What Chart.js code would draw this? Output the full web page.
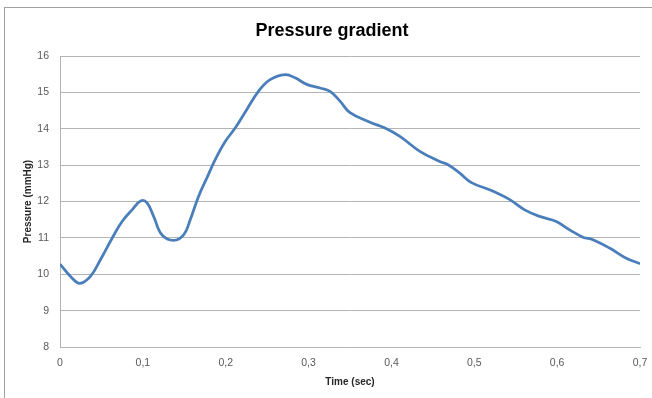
<!DOCTYPE html>
<html>
<head>
<meta charset="utf-8">
<script src="https://cdn.jsdelivr.net/npm/chart.js@4/dist/chart.umd.min.js"></script>
<style>
  html, body { margin: 0; padding: 0; background: #fff; width: 652px; height: 398px; overflow: hidden; position: relative; }
  #frame { position: absolute; left: 4px; top: 7px; width: 700px; height: 500px; border: 1px solid #a0a0a0; box-sizing: border-box; }
  #c { position: absolute; left: 0; top: 0; }
</style>
</head>
<body>
<div id="frame"></div>
<canvas id="c" width="652" height="398"></canvas>
<script>
const titleText = "Pressure gradient";
const xTitle = "Time (sec)";
const yTitle = "Pressure (mmHg)";
const timeSec = [0, 0.0127, 0.0239, 0.0367, 0.0488, 0.0629, 0.0749, 0.0870, 0.0978, 0.1051, 0.1130, 0.1231, 0.1371, 0.1492, 0.1572, 0.1672, 0.1773, 0.1873, 0.1994, 0.2114, 0.2255, 0.2395, 0.2536, 0.2717, 0.2837, 0.2978, 0.3139, 0.3259, 0.3380, 0.3500, 0.3741, 0.3922, 0.4102, 0.4343, 0.4584, 0.4684, 0.4825, 0.4966, 0.5207, 0.5428, 0.5608, 0.5789, 0.5990, 0.6151, 0.6311, 0.6431, 0.6633, 0.6834, 0.7];
const pressure = [10.28, 9.94, 9.75, 9.94, 10.40, 10.99, 11.45, 11.77, 12.02, 11.96, 11.59, 11.08, 10.93, 11.08, 11.50, 12.14, 12.65, 13.15, 13.65, 14.02, 14.53, 15.03, 15.35, 15.49, 15.40, 15.22, 15.12, 15.03, 14.76, 14.44, 14.18, 14.02, 13.79, 13.38, 13.10, 13.01, 12.78, 12.52, 12.30, 12.05, 11.77, 11.59, 11.45, 11.22, 11.02, 10.95, 10.72, 10.44, 10.29];
const xTicks = [0, 0.1, 0.2, 0.3, 0.4, 0.5, 0.6, 0.7];
const yTicks = [8, 9, 10, 11, 12, 13, 14, 15, 16];

const points = timeSec.map((t, i) => ({ x: t, y: pressure[i] }));
const FONT = "'Liberation Sans', Arial, sans-serif";

new Chart(document.getElementById('c'), {
  type: 'line',
  data: {
    datasets: [{
      data: points,
      borderColor: '#4a7ebb',
      borderWidth: 2.75,
      pointRadius: 0,
      tension: 0.4,
      fill: false
    }]
  },
  options: {
    responsive: false,
    animation: false,
    layout: { padding: { left: 24, right: 12, top: 0, bottom: 0 } },
    plugins: {
      legend: { display: false },
      tooltip: { enabled: false },
      title: {
        display: true,
        text: titleText,
        color: '#000000',
        font: { family: FONT, size: 18, weight: 'bold' },
        padding: { top: 20, bottom: 14.4 }
      }
    },
    scales: {
      x: {
        type: 'linear',
        min: xTicks[0],
        max: xTicks[xTicks.length - 1],
        afterBuildTicks: (s) => { s.ticks = xTicks.map(v => ({ value: v })); },
        afterFit: (s) => { s.height = 51; s.paddingLeft = 0; s.paddingRight = 0; },
        grid: { display: false, drawTicks: false },
        border: { display: true, color: '#b4b4b4', width: 1 },
        ticks: {
          padding: 10,
          maxRotation: 0,
          autoSkip: false,
          color: '#595959',
          font: { family: FONT, size: 10.5 },
          callback: (v) => String(Math.round(v * 10) / 10).replace('.', ',')
        },
        title: {
          display: true,
          text: xTitle,
          color: '#262626',
          font: { family: FONT, size: 10, weight: 'bold' },
          padding: { top: 0, bottom: 10 }
        }
      },
      y: {
        type: 'linear',
        min: yTicks[0],
        max: yTicks[yTicks.length - 1],
        afterBuildTicks: (s) => { s.ticks = yTicks.map(v => ({ value: v })); },
        afterFit: (s) => { s.width = 36; s.paddingTop = 0; s.paddingBottom = 0; },
        grid: { color: '#b4b4b4', lineWidth: 1, drawTicks: false },
        border: { display: true, color: '#b4b4b4', width: 1 },
        ticks: {
          padding: 11,
          color: '#595959',
          font: { family: FONT, size: 10.5 }
        },
        title: {
          display: true,
          text: yTitle,
          color: '#262626',
          font: { family: FONT, size: 10, weight: 'bold' },
          padding: { top: -2, bottom: 0 }
        }
      }
    }
  }
});
</script>
</body>
</html>
